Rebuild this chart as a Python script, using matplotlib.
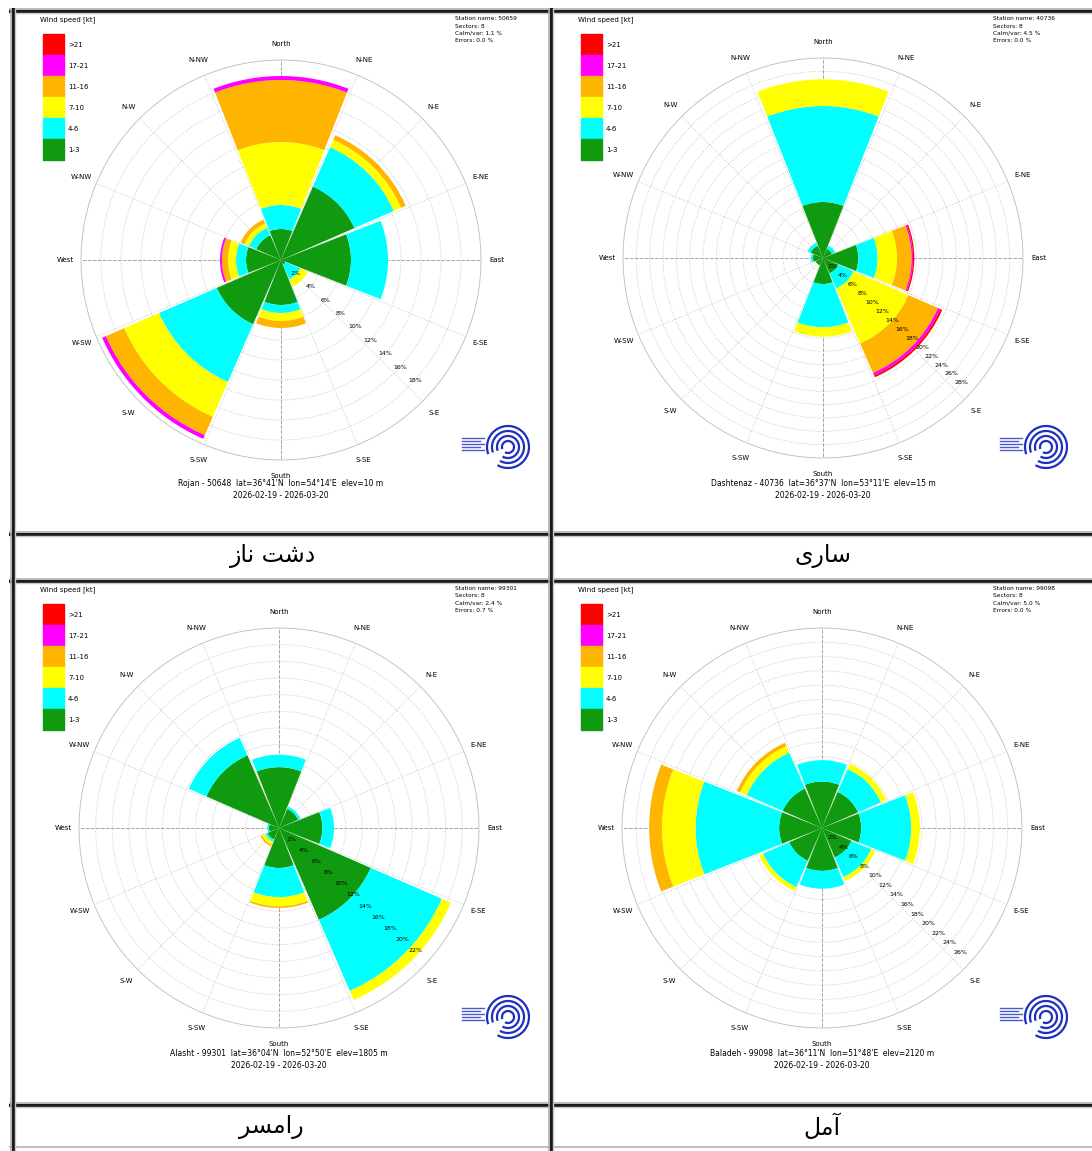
import numpy as np
import matplotlib
matplotlib.use("Agg")
import matplotlib.pyplot as plt
from matplotlib.lines import Line2D
from matplotlib.patches import Rectangle, Arc

W, H = 1092, 1151

bearings = [0, 45, 90, 135, 180, 225, 270, 315]
speed_classes = ["1-3", "4-6", "7-10", "11-16", "17-21", ">21"]
class_colors = ["#109a10", "#00ffff", "#ffff00", "#ffb400", "#ff00ff", "#ff0000"]
compass = ["North", "N-NE", "N-E", "E-NE", "East", "E-SE", "S-E", "S-SE",
           "South", "S-SW", "S-W", "W-SW", "West", "W-NW", "N-W", "N-NW"]

# frequency in %, one row per direction (N, NE, ... NW), columns = speed classes
dashtnaz = [[3.1, 2.4, 6.3, 6.2, 0.4, 0],
            [8.0, 4.3, 0.8, 0.5, 0, 0],
            [7.0, 3.7, 0, 0, 0, 0],
            [0.5, 1.6, 0.8, 0, 0, 0],
            [4.5, 0.8, 0.8, 0.7, 0, 0],
            [7.0, 6.3, 3.8, 2.0, 0.4, 0],
            [3.5, 1.0, 0.8, 0.6, 0.2, 0],
            [2.7, 0.8, 0.5, 0.4, 0, 0]]
sari = [[8.4, 14.4, 4.0, 0, 0, 0],
        [1.5, 0.5, 0, 0, 0, 0],
        [5.3, 2.9, 2.9, 2.2, 0.2, 0.2],
        [2.5, 2.5, 9.0, 4.8, 0.4, 0.3],
        [3.9, 6.5, 1.4, 0, 0, 0],
        [1.2, 0, 0, 0, 0, 0],
        [1.5, 0.3, 0, 0, 0, 0],
        [2.0, 0.5, 0, 0, 0, 0]]
ramsar = [[7.3, 1.5, 0, 0, 0, 0],
          [2.5, 0.3, 0, 0, 0, 0],
          [5.2, 1.4, 0, 0, 0, 0],
          [12.0, 9.3, 1.2, 0, 0, 0],
          [4.8, 3.5, 1.1, 0.2, 0, 0],
          [1.5, 0.3, 0.4, 0.2, 0, 0],
          [1.2, 0.2, 0, 0, 0, 0],
          [9.5, 2.3, 0, 0, 0, 0]]
amol = [[6.5, 3.0, 0, 0, 0, 0],
        [5.5, 3.5, 0.8, 0, 0, 0],
        [5.5, 7.0, 1.2, 0, 0, 0],
        [4.5, 3.0, 0.6, 0, 0, 0],
        [6.0, 2.5, 0, 0, 0, 0],
        [5.0, 4.0, 0.6, 0, 0, 0],
        [6.0, 11.7, 4.7, 1.8, 0, 0],
        [6.0, 5.5, 1.0, 0.5, 0, 0]]

max_pct = [20, 30, 24, 28]

# presentation forms, visual order (matplotlib does no arabic shaping)
names_fa = ["\uFEAF\uFE8E\uFEE7 \uFE96\uFEB7\uFEA9",   # dasht naz
            "\uFEEF\uFEAD\uFE8E\uFEB3",                # sari
            "\uFEAE\uFEB4\uFEE3\uFE8D\uFEAD",          # ramsar
            "\uFEDE\uFEE3\uFE81"]                      # amol

info_lines = [["Station name: 50659", "Sectors: 8", "Calm/var: 1.1 %", "Errors: 0.0 %"],
              ["Station name: 40736", "Sectors: 8", "Calm/var: 4.5 %", "Errors: 0.0 %"],
              ["Station name: 99301", "Sectors: 8", "Calm/var: 2.4 %", "Errors: 0.7 %"],
              ["Station name: 99098", "Sectors: 8", "Calm/var: 5.0 %", "Errors: 0.0 %"]]
footer = [["Rojan - 50648  lat=36\u00b041'N  lon=54\u00b014'E  elev=10 m", "2026-02-19 - 2026-03-20"],
          ["Dashtenaz - 40736  lat=36\u00b037'N  lon=53\u00b011'E  elev=15 m", "2026-02-19 - 2026-03-20"],
          ["Alasht - 99301  lat=36\u00b004'N  lon=52\u00b050'E  elev=1805 m", "2026-02-19 - 2026-03-20"],
          ["Baladeh - 99098  lat=36\u00b011'N  lon=51\u00b048'E  elev=2120 m", "2026-02-19 - 2026-03-20"]]

cells = [(15, 13), (553, 13), (15, 583), (553, 583)]
centers = [(281, 260), (823, 258), (279, 828), (822, 828)]
R = 200


def fx(x):
    return x / W


def fy(y):
    return 1 - y / H


def hline(fig, y, x0, x1, c, lw):
    fig.add_artist(Line2D([fx(x0), fx(x1)], [fy(y), fy(y)], color=c, lw=lw))


def vline(fig, x, y0, y1, c, lw):
    fig.add_artist(Line2D([fx(x), fx(x)], [fy(y0), fy(y1)], color=c, lw=lw))


def draw_rose(fig, cx, cy, data, rmax):
    ax = fig.add_axes([fx(cx - R), fy(cy + R), 2 * R / W, 2 * R / H], projection="polar")
    ax.set_theta_zero_location("N")
    ax.set_theta_direction(-1)
    data = np.array(data)
    theta = np.radians(bearings)
    width = np.radians(43)
    bottom = np.zeros(len(bearings))
    for k in range(len(speed_classes)):
        ax.bar(theta, data[:, k], width=width, bottom=bottom, color=class_colors[k],
               edgecolor="none", zorder=2)
        bottom += data[:, k]
    ax.set_ylim(0, rmax)
    rings = np.arange(2, rmax + 0.1, 2)
    ax.set_yticks(rings)
    ax.set_yticklabels([])
    ax.set_xticks(np.radians(np.arange(0, 360, 22.5)))
    ax.set_xticklabels(compass, fontsize=5)
    ax.tick_params(axis="x", pad=1)
    ax.grid(True, color="#b8b8b8", linestyle=(0, (1, 2)), linewidth=0.6)
    ax.set_axisbelow(True)
    for a in (0, 90, 180, 270):
        ax.plot([np.radians(a), np.radians(a)], [0, rmax], color="#9a9a9a",
                lw=0.6, ls=(0, (4, 2)), zorder=1)
    ax.spines["polar"].set_color("#c0c0c0")
    ax.spines["polar"].set_linewidth(0.6)
    lab_t = np.radians(132)
    for r in rings[:-1]:
        ax.text(lab_t, r, "%d%%" % r, fontsize=4.5, ha="center", va="center", zorder=4)
    return ax


def draw_legend(fig, x0, y0):
    fig.text(fx(x0 + 25), fy(y0 + 7), "Wind speed [kt]", fontsize=5, va="center")
    labels = speed_classes[::-1]
    colors = class_colors[::-1]
    for i in range(6):
        top = y0 + 21 + i * 21
        fig.add_artist(Rectangle((fx(x0 + 28), fy(top + 21)), 21 / W, 21 / H,
                                 color=colors[i], transform=fig.transFigure))
        fig.text(fx(x0 + 53), fy(top + 11), labels[i], fontsize=5, va="center")


def draw_logo(fig, x, y):
    ax = fig.add_axes([fx(x), fy(y + 48), 70 / W, 48 / H])
    ax.set_xlim(0, 70)
    ax.set_ylim(0, 48)
    ax.axis("off")
    for r in (21, 16, 11, 6):
        ax.add_patch(Arc((48, 24), 2 * r, 2 * r, theta1=-120, theta2=200,
                         color="#1e2fc0", lw=1.6))
    for i, yy in enumerate([33, 30, 27, 24, 21]):
        ax.plot([2, 24 - (i % 2) * 4], [yy, yy], color="#4a5ad0", lw=1.0)


def main():
    fig = plt.figure(figsize=(W / 100, H / 100), dpi=100)
    fig.patch.set_facecolor("white")

    all_data = [dashtnaz, sari, ramsar, amol]
    for i in range(4):
        cx, cy = centers[i]
        x0, y0 = cells[i]
        draw_rose(fig, cx, cy, all_data[i], max_pct[i])
        draw_legend(fig, x0, y0)
        for j, line in enumerate(info_lines[i]):
            fig.text(fx(x0 + 440), fy(y0 + 6 + j * 7), line, fontsize=4.2, va="center")
        fig.text(fx(cx), fy(y0 + 471), footer[i][0], fontsize=5.5, ha="center", va="center")
        fig.text(fx(cx), fy(y0 + 482), footer[i][1], fontsize=5.5, ha="center", va="center")
        draw_logo(fig, x0 + 445, y0 + 410)
        ly = 556 if i < 2 else 1127
        fig.text(fx(cx - 8 if i in (0, 2) else cx), fy(ly), names_fa[i], fontsize=17,
                 family=["DejaVu Sans"], ha="center", va="center")

    # table borders
    for y in (11, 534, 581, 1105):
        hline(fig, y - 2, 10, W, "#b0b0b0", 1.2)
        hline(fig, y, 10, W, "#1a1a1a", 2.2)
        hline(fig, y + 2, 10, W, "#c8c8c8", 1.0)
    hline(fig, 1147, 10, W, "#c0c0c0", 1.5)
    for x in (13, 551):
        vline(fig, x - 2, 9, H, "#b0b0b0", 1.2)
        vline(fig, x, 9, H, "#1a1a1a", 2.2)
        vline(fig, x + 2, 9, H, "#c8c8c8", 1.0)

    fig.savefig("out.png", dpi=100, facecolor="white")


if __name__ == "__main__":
    main()
